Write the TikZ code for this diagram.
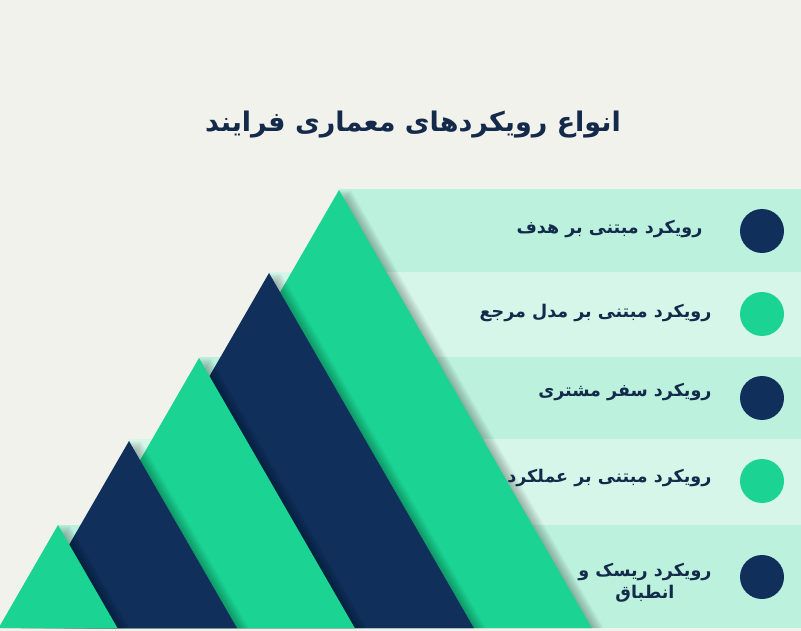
\documentclass[tikz,border=0pt]{standalone}
\usepackage{fontspec}
\usepackage{xcolor}
\TeXXeTstate=1
\newfontfamily\farsifont[Script=Arabic]{DejaVu Sans}
\definecolor{bgcream}{RGB}{242, 242, 236}
\definecolor{bandmint}{RGB}{187, 241, 221}
\definecolor{bandpale}{RGB}{214, 246, 234}
\definecolor{navyblue}{RGB}{16, 47, 90}
\definecolor{mintgreen}{RGB}{27, 211, 146}
\definecolor{inknavy}{RGB}{20, 42, 75}

\begin{document}
\begin{tikzpicture}[
    x=1pt, y=-1pt,
    shade layer/.style={fill=black, opacity=0.022},
    dot/.style={circle, minimum size=44pt, inner sep=0pt},
    label/.style={font=\farsifont\bfseries\fontsize{17.5}{22}\selectfont, text=inknavy, anchor=east, align=center}
]
    % Background and page size
    \fill[bgcream] (0,0) rectangle (801,631);
    \useasboundingbox (0,0) rectangle (801,631);

    % Title
    \node[font=\farsifont\bfseries\fontsize{27}{33}\selectfont, text=inknavy] (title) at (413,125) {\beginR انواع رویکردهای معماری فرایند\endR};

    % Bands (top to bottom), each starts at the apex of its triangle
    \fill[bandmint] (339,189) rectangle (801,272);
    \fill[bandpale] (269,272) rectangle (801,357);
    \fill[bandmint] (199,357) rectangle (801,439);
    \fill[bandpale] (129,439) rectangle (801,525);
    \fill[bandmint] (58,525) rectangle (801,628);

    % Triangles (back to front), with a soft shadow to the right
    \begin{scope}
        \clip (0,0) rectangle (801,628);
        \foreach \ax/\ay/\col in {339/190/mintgreen, 269/273/navyblue, 199/358/mintgreen, 129/441/navyblue, 58/525/mintgreen} {
            \foreach \d in {1,...,12} {
                \fill[shade layer, xshift=\d pt] (\ax,\ay) -- ({\ax+0.577*(628-\ay)},628) -- ({\ax-0.577*(628-\ay)},628) -- cycle;
            }
            \fill[\col] (\ax,\ay) -- ({\ax+0.577*(628-\ay)},628) -- ({\ax-0.577*(628-\ay)},628) -- cycle;
        }
    \end{scope}

    % Dots
    \node[dot, fill=navyblue] (dot1) at (762,231) {};
    \node[dot, fill=mintgreen] (dot2) at (762,314) {};
    \node[dot, fill=navyblue] (dot3) at (762,398) {};
    \node[dot, fill=mintgreen] (dot4) at (762,481) {};
    \node[dot, fill=navyblue] (dot5) at (762,577) {};

    % Labels
    \node[label] (goal) at (706,229) {\beginR رویکرد مبتنی بر هدف\endR};
    \node[label] (refmodel) at (715,313) {\beginR رویکرد مبتنی بر مدل مرجع\endR};
    \node[label] (journey) at (715,392) {\beginR رویکرد سفر مشتری\endR};
    \node[label] (perform) at (715,478) {\beginR رویکرد مبتنی بر عملکرد\endR};
    \node[label] (risk) at (715,583) {\beginR رویکرد ریسک و\endR\\\beginR انطباق\endR};

\end{tikzpicture}
\end{document}
